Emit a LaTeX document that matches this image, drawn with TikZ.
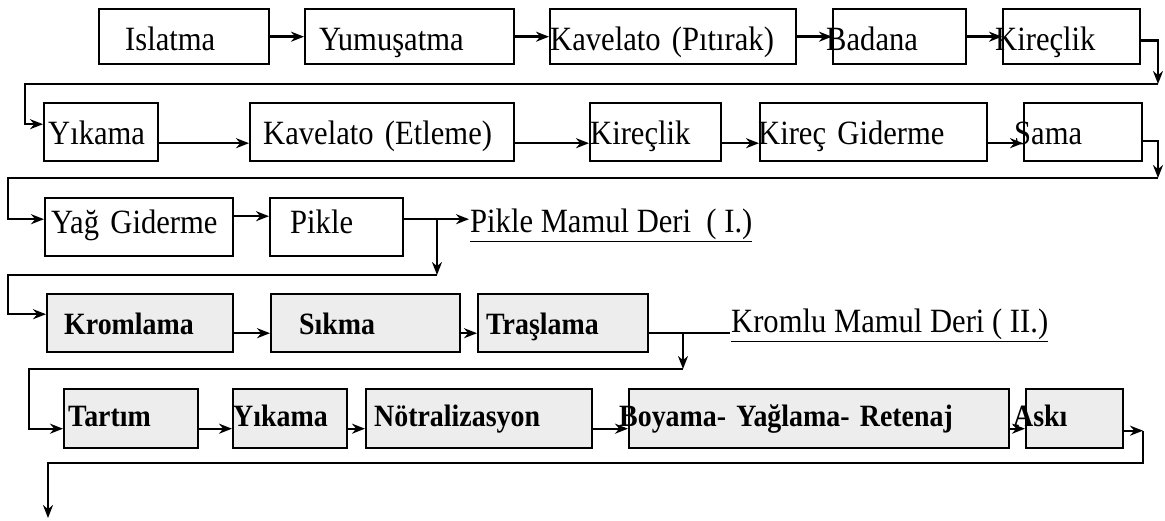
\documentclass[tikz,border=0pt]{standalone}
\usepackage{fontspec}
\setmainfont{Liberation Serif}[FakeStretch=0.9]
\usetikzlibrary{arrows.meta}

\begin{document}
\begin{tikzpicture}[x=1pt,y=-1pt,>={Stealth[length=13pt,width=10pt]},line width=2.4pt,
    stepbox/.style={draw,anchor=north west,inner xsep=0pt,inner ysep=0pt,align=left,text depth=7pt,font=\fontsize{34}{37}\selectfont},
    shadebox/.style={stepbox,fill=black!7,font=\fontsize{31}{34}\selectfont\bfseries},
    row1/.style={minimum height=55pt,text height=35pt},
    row2/.style={minimum height=58pt,text height=31pt},
    row3/.style={minimum height=58pt,text height=19pt},
    row4/.style={minimum height=58pt,text height=29pt},
    row5/.style={minimum height=59pt,text height=23pt},
    result/.style={anchor=west,inner sep=0pt,font=\fontsize{34}{37}\selectfont}]
            \useasboundingbox (0,0) rectangle (1165,521);

            \node[stepbox, row1, text width=170pt] (11) at (98,8) {\hspace*{26pt}Islatma};
            \node[stepbox, row1, text width=209pt] (12) at (304,8) {\hspace*{14pt}Yumuşatma};
            \node[stepbox, row1, text width=246pt] (13) at (549,8) {Kavelato (Pıtırak)};
            \node[stepbox, row1, text width=133pt] (14) at (832,8) {\hspace*{-7pt}Badana};
            \node[stepbox, row1, text width=137pt] (15) at (1002,8) {\hspace*{-8pt}Kireçlik};

            \node[stepbox, row2, text width=114pt] (21) at (43,102) {\hspace*{4pt}Yıkama};
            \node[stepbox, row2, text width=264pt] (22) at (249,102) {\hspace*{13pt}Kavelato (Etleme)};
            \node[stepbox, row2, text width=131pt] (23) at (589,102) {Kireçlik};
            \node[stepbox, row2, text width=227pt] (24) at (759,102) {\hspace*{-2pt}Kireç Giderme};
            \node[stepbox, row2, text width=118pt] (25) at (1023,102) {\hspace*{-10pt}Sama};

            \node[stepbox, row3, text width=188pt] (31) at (44,197) {\hspace*{6pt}Yağ Giderme};
            \node[stepbox, row3, text width=133pt] (32) at (269,197) {\hspace*{20pt}Pikle};
            \node[result] (33) at (469,225) {\underline{Pikle Mamul Deri\ \ ( I.)}};

            \node[shadebox, row4, text width=186pt] (41) at (46,293) {\hspace*{17pt}Kromlama};
            \node[shadebox, row4, text width=189pt] (42) at (270,293) {\hspace*{28pt}Sıkma};
            \node[shadebox, row4, text width=170pt] (43) at (477,293) {\hspace*{8pt}Traşlama};
            \node[result] (44) at (730,325) {\underline{Kromlu Mamul Deri ( II.)}};

            \node[shadebox, row5, text width=134pt] (51) at (63,388) {\hspace*{4pt}Tartım};
            \node[shadebox, row5, text width=114pt] (52) at (232,388) {Yıkama};
            \node[shadebox, row5, text width=226pt] (53) at (365,388) {\hspace*{8pt}Nötralizasyon};
            \node[shadebox, row5, text width=380pt] (54) at (628,388) {\hspace*{-10pt}Boyama- Yağlama- Retenaj};
            \node[shadebox, row5, text width=97pt] (55) at (1025,388) {\hspace*{-13pt}Askı};

            \coordinate (d1) at (1158,84);
            \coordinate (e1) at (25,84);
            \coordinate (d2) at (1158,178);
            \coordinate (e2) at (8,178);
            \coordinate (d3) at (437,275);
            \coordinate (e3) at (8,275);
            \coordinate (d4) at (683,369);
            \coordinate (e4) at (29,369);
            \coordinate (d5) at (1143,463);
            \coordinate (e5) at (48,463);
            \coordinate (f5) at (48,518);

            \path[->]
                (11) edge (12)
                (12) edge (13)
                (13) edge (14)
                (14) edge (15)

                ([yshift=-11pt]21.east) edge ([yshift=-11pt]22.west)
                ([yshift=-11pt]22.east) edge ([yshift=-11pt]23.west)
                ([yshift=-11pt]23.east) edge ([yshift=-11pt]24.west)
                ([yshift=-11pt]24.east) edge ([yshift=-11pt]25.west)

                ([yshift=11pt]31.east) edge ([yshift=11pt]32.west)
                ([yshift=8pt]32.east) edge ([yshift=8pt]32.east -| 33.west)

                ([yshift=-10pt]41.east) edge ([yshift=-10pt]42.west)
                ([yshift=-10pt]42.east) edge ([yshift=-10pt]43.west)

                ([yshift=-10pt]51.east) edge ([yshift=-10pt]52.west)
                ([yshift=-10pt]52.east) edge ([yshift=-10pt]53.west)
                ([yshift=-10pt]53.east) edge ([yshift=-10pt]54.west)
                ([yshift=-10pt]54.east) edge ([yshift=-10pt]55.west)
            ;

            \draw[->] ([yshift=-4pt]15.east) -| (d1);
            \draw[->] (d1) -- (e1) |- ([yshift=8pt]21.west);
            \draw[->] ([yshift=-9pt]25.east) -| (d2);
            \draw[->] (d2) -- (e2) |- ([yshift=8pt]31.west);
            \draw[->] ([yshift=8pt]32.east -| d3) -- (d3);
            \draw[->] (d3) -- (e3) |- ([yshift=9pt]41.west);
            \draw ([yshift=-10pt]43.east) -- ([yshift=-10pt]43.east -| 44.west);
            \draw[->] ([yshift=-10pt]43.east -| d4) -- (d4);
            \draw[->] (d4) -- (e4) |- ([yshift=-10pt]51.west);
            \draw[->] ([yshift=-12pt]55.east) -- ([yshift=-12pt]55.east -| d5);
            \draw[->] ([yshift=-12pt]55.east -| d5) -- (d5) -- (e5) -- (f5);
\end{tikzpicture}
\end{document}
